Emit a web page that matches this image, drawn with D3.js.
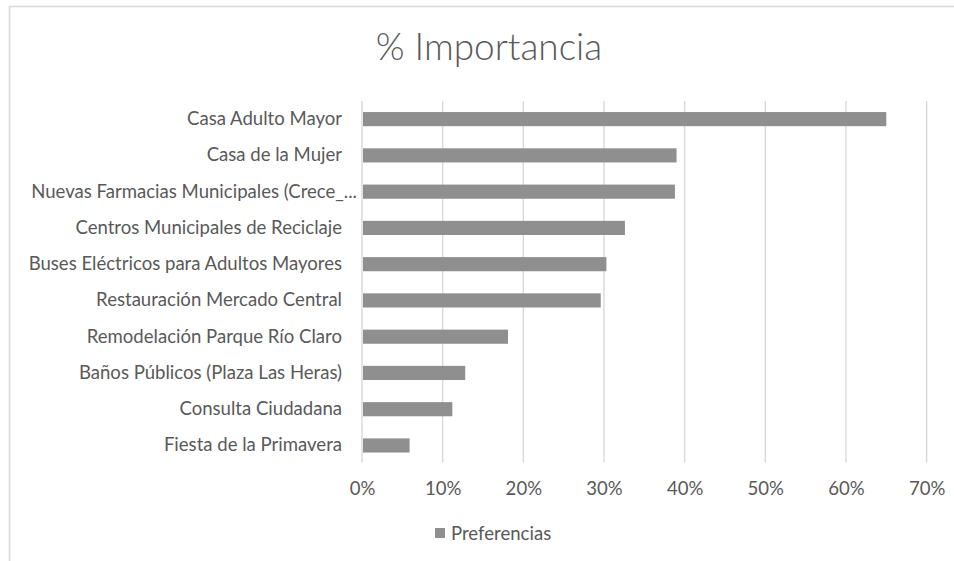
<!DOCTYPE html>
<html>
<head>
<meta charset="utf-8">
<script src="https://cdn.jsdelivr.net/npm/d3@7"></script>
<style>
  html, body { margin: 0; padding: 0; background: #fff; }
  svg { display: block; }
  text { font-family: Lato, "Open Sans", sans-serif; fill: #595959; }
</style>
</head>
<body>
<svg id="chart" width="954" height="561"></svg>
<script>
// Projects and the share of preference each received
const categories = [
  "Casa Adulto Mayor",
  "Casa de la Mujer",
  "Nuevas Farmacias Municipales (Crece_...",
  "Centros Municipales de Reciclaje",
  "Buses Eléctricos para Adultos Mayores",
  "Restauración Mercado Central",
  "Remodelación Parque Río Claro",
  "Baños Públicos (Plaza Las Heras)",
  "Consulta Ciudadana",
  "Fiesta de la Primavera"
];
const preferencias = [0.650, 0.390, 0.388, 0.326, 0.303, 0.296, 0.181, 0.128, 0.112, 0.059];
const tickValues = [0, 0.1, 0.2, 0.3, 0.4, 0.5, 0.6, 0.7];
const seriesName = "Preferencias";
const chartTitle = "% Importancia";

const svg = d3.select("#chart");
const plot = { left: 362, right: 926.6, top: 101, bottom: 463.6 };

// Chart frame (top and left edges)
svg.append("path")
  .attr("d", "M9.5,561 V6.5 H954")
  .attr("fill", "none")
  .attr("stroke", "#d9d9d9")
  .attr("stroke-width", 1.6);

const x = d3.scaleLinear().domain([0, 0.7]).range([plot.left, plot.right]);
const y = d3.scaleBand().domain(categories)
  .range([plot.top, plot.bottom])
  .paddingInner(0.61).paddingOuter(0.305);

// Vertical gridlines
svg.append("g")
  .selectAll("line")
  .data(tickValues)
  .join("line")
  .attr("x1", d => x(d)).attr("x2", d => x(d))
  .attr("y1", plot.top).attr("y2", plot.bottom - 1)
  .attr("stroke", "#d9d9d9")
  .attr("stroke-width", 1.4);

// Bars
svg.append("g")
  .selectAll("rect")
  .data(categories)
  .join("rect")
  .attr("x", x(0) + 1)
  .attr("y", d => y(d))
  .attr("width", (d, i) => x(preferencias[i]) - x(0) - 1)
  .attr("height", y.bandwidth())
  .attr("fill", "#8f8f8f");

// Fit a font size so a string spans a given width
function fitSize(str, width, base) {
  const t = svg.append("text").style("font-size", base + "px").text(str);
  const w = t.node().getComputedTextLength();
  t.remove();
  return base * width / w;
}

const labelSize = fitSize(categories[2], 326, 16);

// Category axis labels
const yAxis = d3.axisLeft(y).tickSize(0).tickPadding(0);
const gy = svg.append("g").attr("transform", `translate(${plot.left - 20},0)`).call(yAxis);
gy.select(".domain").remove();
gy.selectAll("text")
  .style("font-size", labelSize + "px")
  .style("font-family", "Lato, 'Open Sans', sans-serif")
  .attr("fill", "#595959")
  .attr("x", d => d.endsWith("...") ? 15 : 0);

// Value axis labels
const xAxis = d3.axisBottom(x).tickValues(tickValues).tickFormat(d3.format(".0%")).tickSize(0).tickPadding(0);
const gx = svg.append("g").attr("transform", `translate(0,${plot.bottom + 25})`).call(xAxis);
gx.select(".domain").remove();
gx.selectAll("text")
  .style("font-size", labelSize + "px")
  .style("font-family", "Lato, 'Open Sans', sans-serif")
  .attr("fill", "#595959")
  .attr("dy", "0.35em")
  .attr("y", 0);

// Title
const titleSize = fitSize(chartTitle, 232, 30);
svg.append("text")
  .attr("x", 489)
  .attr("y", 47)
  .attr("text-anchor", "middle")
  .attr("dy", "0.35em")
  .style("font-size", titleSize + "px")
  .style("font-weight", 300)
  .text(chartTitle);

// Legend
const legend = svg.append("g").attr("transform", "translate(435,533.5)");
legend.append("rect")
  .attr("x", 0).attr("y", -5.5)
  .attr("width", 10).attr("height", 10)
  .attr("fill", "#8f8f8f");
legend.append("text")
  .attr("x", 16).attr("y", 0).attr("dy", "0.35em")
  .style("font-size", labelSize + "px")
  .text(seriesName);
</script>
</body>
</html>
